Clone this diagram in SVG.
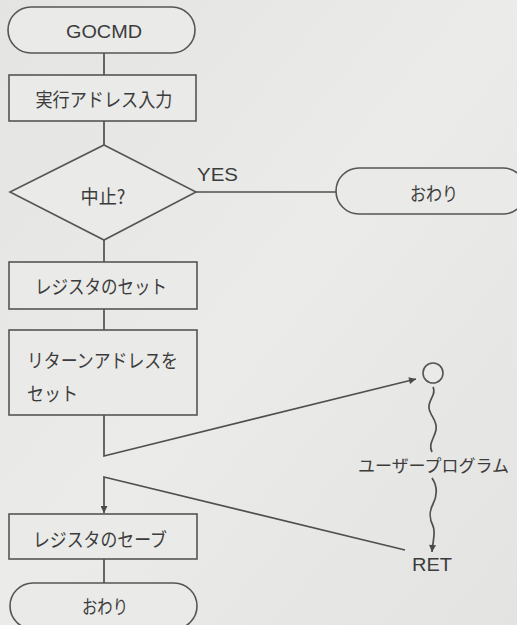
<svg xmlns="http://www.w3.org/2000/svg" width="517" height="625" viewBox="0 0 517 625">
<defs>
<linearGradient id="bg" x1="0" y1="0" x2="1" y2="1">
<stop offset="0" stop-color="#e4e4e2"/>
<stop offset="0.5" stop-color="#ebebe9"/>
<stop offset="1" stop-color="#e3e3e1"/>
</linearGradient>
<marker id="arr" viewBox="0 0 10 10" refX="10" refY="5" markerWidth="9" markerHeight="7" markerUnits="userSpaceOnUse" orient="auto">
<path d="M0,0 L10,5 L0,10 Z" fill="#4a4a4a"/>
</marker>
<style>
.s{fill:#eaeae8;stroke:#555;stroke-width:1.6}
.c{fill:none;stroke:#4f4f4f;stroke-width:1.7}
.t{font-family:"Noto Sans CJK JP","Liberation Sans",sans-serif;font-size:19px;fill:#3c3c3c;dominant-baseline:central}
.m{text-anchor:middle}
.e{font-family:"Liberation Sans","Noto Sans",sans-serif;font-size:19px;fill:#3c3c3c;dominant-baseline:central}
</style>
</defs>
<rect x="0" y="0" width="517" height="625" fill="url(#bg)"/>
<g id="connectors">
<path class="c" d="M104,53 V75"/>
<path class="c" d="M104,121 V145"/>
<path class="c" d="M196,192 H336"/>
<path class="c" d="M104,240 V262"/>
<path class="c" d="M104,309 V330"/>
<path class="c" d="M104,415 V456 L416,379" marker-end="url(#arr)"/>
<path class="c" d="M433,387 C437,394 428,400 429,408 C430,416 438,421 436,430 C434,439 428,444 432,452"/>
<path class="c" d="M432,478 C438,487 437,496 433,504 C429,512 429,518 433,526 C436,532 433,539 432,552" marker-end="url(#arr)"/>
<path class="c" d="M405,550 L104,477 V513" marker-end="url(#arr)"/>
<path class="c" d="M104,559 V583"/>
</g>
<g id="n-gocmd"><rect class="s" x="8" y="7" width="187" height="46" rx="23"/><text class="e m" x="104" y="31" textLength="76" lengthAdjust="spacingAndGlyphs">GOCMD</text></g>
<g id="n-input"><rect class="s" x="9" y="75" width="187" height="46"/><text class="t m" x="104" y="98" textLength="137" lengthAdjust="spacingAndGlyphs">実行アドレス入力</text></g>
<g id="n-abort"><polygon class="s" points="104,145 196,192 104,240 10,192"/><text class="t m" x="103" y="195" textLength="45" lengthAdjust="spacingAndGlyphs">中止?</text></g>
<text id="l-yes" class="e" x="197" y="174" textLength="41" lengthAdjust="spacingAndGlyphs">YES</text>
<g id="n-end1"><rect class="s" x="336" y="168" width="190" height="46" rx="23"/><text class="t m" x="434" y="192" textLength="48" lengthAdjust="spacingAndGlyphs">おわり</text></g>
<g id="n-regset"><rect class="s" x="9" y="262" width="188" height="47"/><text class="t m" x="101" y="285" textLength="132" lengthAdjust="spacingAndGlyphs">レジスタのセット</text></g>
<g id="n-retset"><rect class="s" x="9" y="330" width="188" height="85"/><text class="t" x="27" y="359" textLength="151" lengthAdjust="spacingAndGlyphs">リターンアドレスを</text><text class="t" x="27" y="392" textLength="51" lengthAdjust="spacingAndGlyphs">セット</text></g>
<g id="n-user"><circle class="s" cx="433" cy="373" r="10"/><text class="t" x="358" y="465" style="font-size:16.8px" textLength="151" lengthAdjust="spacingAndGlyphs">ユーザープログラム</text></g>
<text id="l-ret" class="e m" x="432" y="564" textLength="40" lengthAdjust="spacingAndGlyphs">RET</text>
<g id="n-regsave"><rect class="s" x="9" y="514" width="188" height="45"/><text class="t m" x="100" y="538" textLength="134" lengthAdjust="spacingAndGlyphs">レジスタのセーブ</text></g>
<g id="n-end2"><rect class="s" x="10" y="583" width="187" height="46" rx="23"/><text class="t m" x="105" y="605" textLength="46" lengthAdjust="spacingAndGlyphs">おわり</text></g>
</svg>
